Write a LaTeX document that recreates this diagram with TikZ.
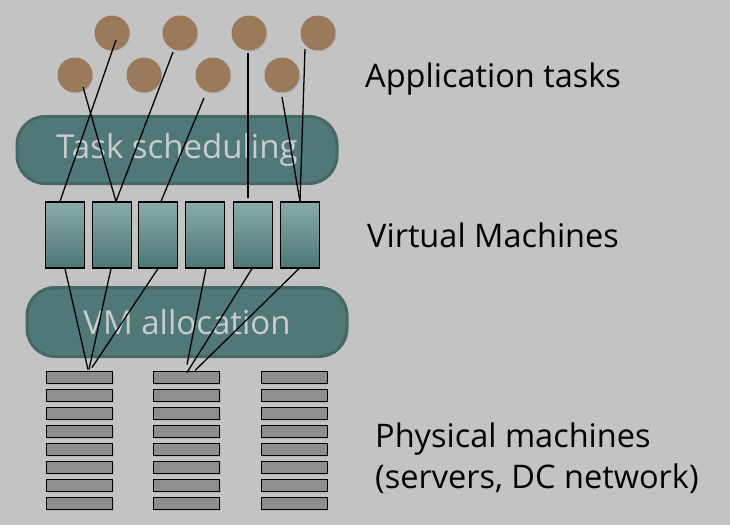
\documentclass[tikz,border=0pt]{standalone}
\usepackage{fontspec}
\setmainfont{Open Sans}
\usepackage{tikz}
\usetikzlibrary{calc}
\usetikzlibrary{shadows}
\definecolor{bggray}{RGB}{195,195,195}
\definecolor{taskbrown}{RGB}{155,122,92}
\definecolor{stagefill}{RGB}{79,120,118}
\definecolor{stageline}{RGB}{69,104,103}
\definecolor{stagetext}{RGB}{201,205,203}
\definecolor{vmtop}{RGB}{137,171,169}
\definecolor{vmbottom}{RGB}{76,119,117}
\definecolor{pmgray}{RGB}{142,142,142}
\newcommand{\tnode}[2]{\node(#1)[task] at (#2) {}}
\newcommand{\vnode}[2]{\node(#1)[vm] at (#2) {}}

\begin{document}
\begin{tikzpicture}[
        x=1pt, y=-1pt,
        every node/.style={font=\fontsize{32.5}{38}\selectfont},
        task/.style={circle,minimum size=35pt,inner sep=0pt,fill=taskbrown,
                     drop shadow={shadow xshift=1pt,shadow yshift=-1pt,opacity=0.2}},
        vm/.style={rectangle,minimum width=39pt,minimum height=66pt,inner sep=0pt,
                   draw=black,line width=1.2pt,top color=vmtop,bottom color=vmbottom},
        pm/.style={rectangle,minimum width=66pt,minimum height=12pt,inner sep=0pt,
                   draw=black,line width=1pt,fill=pmgray,
                   drop shadow={shadow xshift=1pt,shadow yshift=-1.5pt,opacity=0.25}},
        stage/.style={rectangle,rounded corners=28pt,minimum width=320pt,inner sep=0pt,
                      draw=stageline,line width=3pt,fill=stagefill,text=stagetext,
                      font=\fontsize{33}{38}\selectfont},
        caption/.style={anchor=base west,inner sep=0pt,text=black},
        link/.style={draw=black,line width=1.3pt}
      ]
      \fill[bggray] (0,0) rectangle (730,525);
      \useasboundingbox (0,0) rectangle (730,525);
      % stages
      \node(sched)[stage,minimum height=67pt] at (177,150) {Task scheduling};
      \node(alloc)[stage,minimum height=69pt] at (187,322) {VM allocation};
      % application tasks
      \tnode{tu1}{112,33}; \tnode{tu2}{180,33}; \tnode{tu3}{249,33}; \tnode{tu4}{318,33};
      \tnode{tl1}{75,75}; \tnode{tl2}{144,75}; \tnode{tl3}{213,75}; \tnode{tl4}{282,75};
      % virtual machines
      \vnode{v1}{65,235}; \vnode{v2}{112,235}; \vnode{v3}{158,235};
      \vnode{v4}{205,235}; \vnode{v5}{253,235}; \vnode{v6}{300,235};
      % physical machines
      \foreach \c/\x in {1/79.5,2/186.5,3/294}
        \foreach \r in {0,...,7}
          \node(p\c\r)[pm] at (\x,377+18*\r) {};
      % task -> vm
      \draw[link] ($(tu1)+(4,7)$) -- ([xshift=-5pt]v1.north);
      \draw[link] ($(tl1)+(8,12)$) -- ([xshift=4pt]v2.north);
      \draw[link] ($(tu2)+(-7,19)$) -- ([xshift=4pt]v2.north);
      \draw[link] ($(tl3)+(-9,23)$) -- ([xshift=3pt]v3.north);
      \draw[link] ($(tu3)+(-1,20)$) -- ([xshift=-5pt,yshift=3pt]v5.north);
      \draw[link] ($(tl4)+(0,22)$) -- (v6.north);
      \draw[link] ($(tu4)+(-13,16)$) -- (v6.north);
      % vm -> pm
      \draw[link] (v1.south) -- ([xshift=8.5pt,yshift=1pt]p10.north);
      \draw[link] ([xshift=-1pt]v2.south) -- ([xshift=9.5pt,yshift=1pt]p10.north);
      \draw[link] (v3.south) -- ([xshift=12.5pt,yshift=3pt]p10.north);
      \draw[link] ([xshift=1pt]v4.south) -- ([xshift=0.5pt,yshift=6pt]p20.north);
      \draw[link] ([xshift=-1pt]v5.south) -- ([xshift=0.5pt,yshift=-2pt]p20.north);
      \draw[link] ([xshift=-1pt]v6.south) -- ([xshift=8.5pt]p20.north);
      % captions
      \node(apptext)[caption] at (365,87) {Application tasks};
      \node(vmtext)[caption] at (367,247) {Virtual Machines};
      \node(pmtext)[caption] at (375,447) {Physical machines};
      \node(pmnote)[caption] at (375,488) {(servers, DC network)};
\end{tikzpicture}
\end{document}
